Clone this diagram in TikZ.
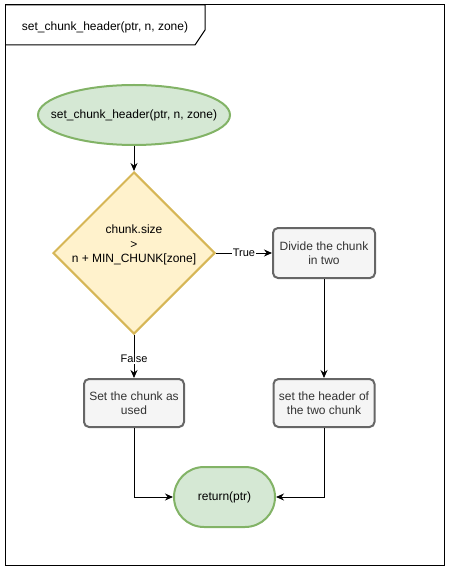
\documentclass[tikz,border=0pt]{standalone}
\usepackage{fontspec}
\setmainfont{Liberation Sans}
\usepackage{tikz}
\usetikzlibrary{arrows.meta, positioning, shapes.geometric}

\definecolor{termfill}{HTML}{D5E8D4}
\definecolor{termline}{HTML}{82B366}
\definecolor{testfill}{HTML}{FFF2CC}
\definecolor{testline}{HTML}{D6B656}
\definecolor{procfill}{HTML}{F5F5F5}
\definecolor{procline}{HTML}{666666}
\definecolor{proctext}{HTML}{333333}

\begin{document}
\begin{tikzpicture}[x=1pt, y=-1pt, >={Stealth[length=8pt, width=7pt]},
  every node/.style={font=\fontsize{12}{14.5}\selectfont, align=center, inner sep=0pt},
  term/.style={fill=termfill, draw=termline, line width=2pt},
  proc/.style={rectangle, rounded corners=5pt, fill=procfill, draw=procline,
    line width=2pt, text=proctext},
  test/.style={diamond, fill=testfill, draw=testline, line width=2pt},
  flow/.style={->, line width=1pt},
  edgelabel/.style={fill=white, font=\fontsize{11}{13}\selectfont, inner sep=1pt}]
  \useasboundingbox (0,0) rectangle (450,569);

  % Frame and title tab
  \draw[line width=1pt] (5,5) rectangle (444,565);
  \draw[line width=1pt] (5,5) -- (205,5) -- (205,30) -- (195,45) -- (5,45);
  \node (title) at (105,27) {set\_chunk\_header(ptr, n, zone)};

  % Start
  \node[term, ellipse, minimum width=192pt, minimum height=60pt,
    label={center:set\_chunk\_header(ptr, n, zone)}] (start) at (134,115) {};

  % Size test
  \node[test, minimum width=162pt, minimum height=162pt,
    label={[align=center, yshift=8pt]center:chunk.size\\>\\n + MIN\_CHUNK[zone]}]
    (check) at (134,253) {};

  % Branches
  \node[proc, minimum width=102pt, minimum height=50pt] (divide) at (324,253)
    {Divide the chunk\\in two};
  \node[proc, minimum width=100pt, minimum height=48pt] (used) at (134,403)
    {Set the chunk as\\used};
  \node[proc, minimum width=101pt, minimum height=48pt] (header) at (324,403)
    {set the header of\\the two chunk};

  % End
  \node[term, rectangle, rounded corners=30pt, minimum width=101pt, minimum height=60pt]
    (ret) at (224.5,497) {return(ptr)};

  % Connectors
  \draw[flow] (start) -- (check);
  \draw[flow] (check.east) -- node[edgelabel, pos=0.5] {True} (divide.west);
  \draw[flow] (check.south) -- node[edgelabel, pos=0.55] {False} (used.north);
  \draw[flow] (divide) -- (header);
  \draw[flow] (used.south) |- (ret.west);
  \draw[flow] (header.south) |- (ret.east);
\end{tikzpicture}
\end{document}
